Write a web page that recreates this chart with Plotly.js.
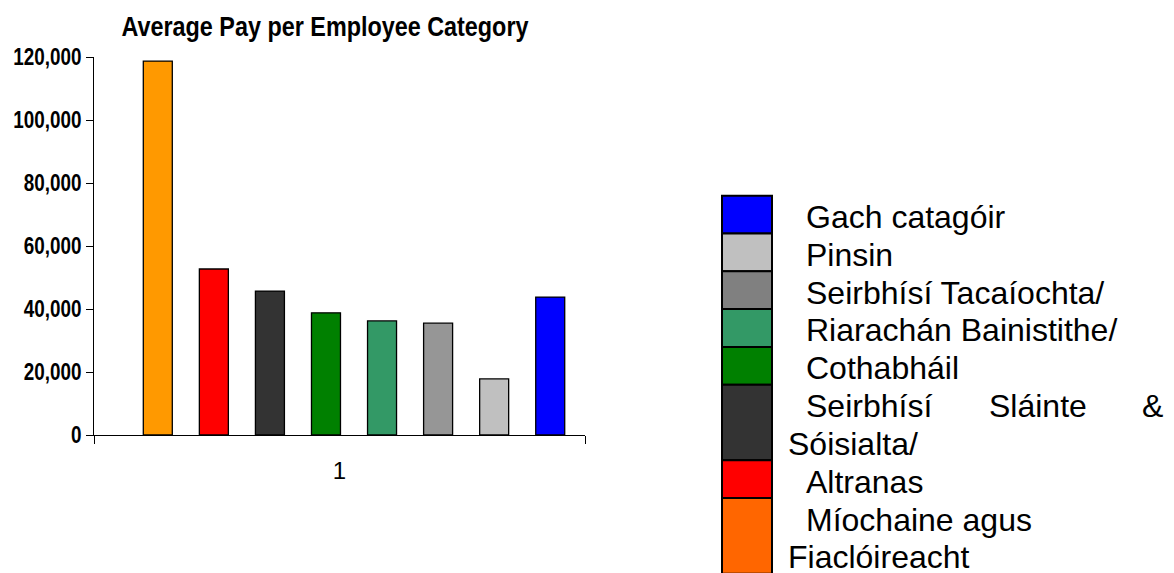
<!DOCTYPE html>
<html>
<head>
<meta charset="utf-8">
<script src="https://cdn.plot.ly/plotly-3.0.1.min.js"></script>
<style>html,body{margin:0;padding:0;background:#fff;}#chart{width:1174px;height:573px;}</style>
</head>
<body>
<div id="chart"></div>
<script>
// ---- data ----
const chartTitle = "Average Pay per Employee Category";
const categoryLabel = "1";
const categories = [
  "Míochaine agus Fiaclóireacht",
  "Altranas",
  "Seirbhísí Sláinte & Sóisialta/",
  "Cothabháil",
  "Riarachán Bainistithe/",
  "Seirbhísí Tacaíochta/",
  "Pinsin",
  "Gach catagóir"
];
const values = [118700, 52700, 45700, 38800, 36200, 35500, 17800, 43800];
const barColors = ["#FF9900", "#FF0000", "#333333", "#008000", "#339966", "#969696", "#C0C0C0", "#0000FF"];
const legendColors = ["#FF6600", "#FF0000", "#333333", "#008000", "#339966", "#808080", "#C0C0C0", "#0000FF"];
// wrapped legend text lines per category (same order as categories)
const legendLines = [
  ["Míochaine agus", "Fiaclóireacht"],
  ["Altranas"],
  [["Seirbhísí", "Sláinte", "&"], "Sóisialta/"],
  ["Cothabháil"],
  ["Riarachán Bainistithe/"],
  ["Seirbhísí Tacaíochta/"],
  ["Pinsin"],
  ["Gach catagóir"]
];
const yTicks = [0, 20000, 40000, 60000, 80000, 100000, 120000];

// ---- geometry helpers ----
const W = 1174, H = 573;
const M = {l: 94, r: 589, t: 57, b: 138};
const pw = W - M.l - M.r, ph = H - M.t - M.b;
const px2x = px => (px - M.l) / pw;
const py2y = py => (H - M.b - py) / ph;

const sans = "'Liberation Sans', Arial, sans-serif";
const NARROW = 0.82; // chart title & value axis use a condensed face

// bars: one trace per category, placed side by side within the single category
const barW = 29 / pw, slot = 56.06 / pw, firstOff = (143.3 - (M.l + pw / 2)) / pw;
const traces = categories.map((name, i) => ({
  type: 'bar',
  name: name,
  x: [categoryLabel],
  y: [values[i]],
  width: barW,
  offset: firstOff + i * slot,
  marker: {color: barColors[i], line: {color: '#000', width: 1.3}},
  hoverinfo: 'name+y'
}));

// legend drawn as stacked colour cells with text beside them
const shapes = [], annotations = [];
const rowTop0 = 195.7, lineH = 37.8;
const boxL = 722, boxR = 772;
const textX = 805, wrapX = 787;
const justX = [805, 988, 1141];
let lineIdx = 0;
for (let r = categories.length - 1; r >= 0; r--) {
  const lines = legendLines[r];
  const top = rowTop0 + lineIdx * lineH;
  const bottom = rowTop0 + (lineIdx + lines.length) * lineH;
  shapes.push({
    type: 'rect', xref: 'paper', yref: 'paper',
    x0: px2x(boxL), x1: px2x(boxR), y0: py2y(top), y1: py2y(bottom),
    fillcolor: legendColors[r], line: {color: '#000', width: 2}
  });
  lines.forEach((ln, k) => {
    const cy = rowTop0 + (lineIdx + k) * lineH + lineH / 2 + 2.5;
    const parts = Array.isArray(ln) ? ln : [ln];
    parts.forEach((p, j) => {
      const x = Array.isArray(ln) ? justX[j] : (k === 0 ? textX : wrapX);
      annotations.push({
        xref: 'paper', yref: 'paper', x: px2x(x), y: py2y(cy),
        xanchor: 'left', yanchor: 'middle', showarrow: false,
        text: p, borderpad: 0,
        font: {family: sans, size: 32, color: '#000'}
      });
    });
  });
  lineIdx += lines.length;
}

const layout = {
  width: W, height: H,
  margin: M,
  paper_bgcolor: '#fff', plot_bgcolor: '#fff',
  showlegend: false,
  barmode: 'overlay',
  title: {
    text: chartTitle,
    x: 325 / W, xref: 'container', xanchor: 'center',
    y: 1 - 26 / H, yref: 'container', yanchor: 'middle',
    font: {family: sans, size: 28.5, weight: 'bold', color: '#000'}
  },
  xaxis: {
    type: 'category',
    range: [-0.5, 0.5],
    showline: true, linecolor: '#000', linewidth: 1,
    ticks: 'outside', tickson: 'boundaries', ticklen: 8, tickcolor: '#000', tickwidth: 1,
    ticklabelstandoff: 14,
    showgrid: false, zeroline: false,
    tickfont: {family: sans, size: 24, color: '#000'}
  },
  yaxis: {
    range: [0, 120000],
    tickvals: yTicks,
    ticktext: yTicks.map(v => v.toLocaleString('en-US')),
    showline: true, linecolor: '#000', linewidth: 1,
    ticks: 'outside', ticklen: 7, tickcolor: '#000', tickwidth: 1,
    showgrid: false, zeroline: false,
    tickfont: {family: sans, size: 23, weight: 'bold', color: '#000'}
  },
  shapes: shapes,
  annotations: annotations
};

Plotly.newPlot('chart', traces, layout, {displayModeBar: false, staticPlot: true}).then(gd => {
  gd.querySelectorAll('.gtitle, .ytick text').forEach(t => {
    const L = t.getComputedTextLength();
    t.setAttribute('textLength', (L * NARROW).toFixed(1));
    t.setAttribute('lengthAdjust', 'spacingAndGlyphs');
  });
});
</script>
</body>
</html>
